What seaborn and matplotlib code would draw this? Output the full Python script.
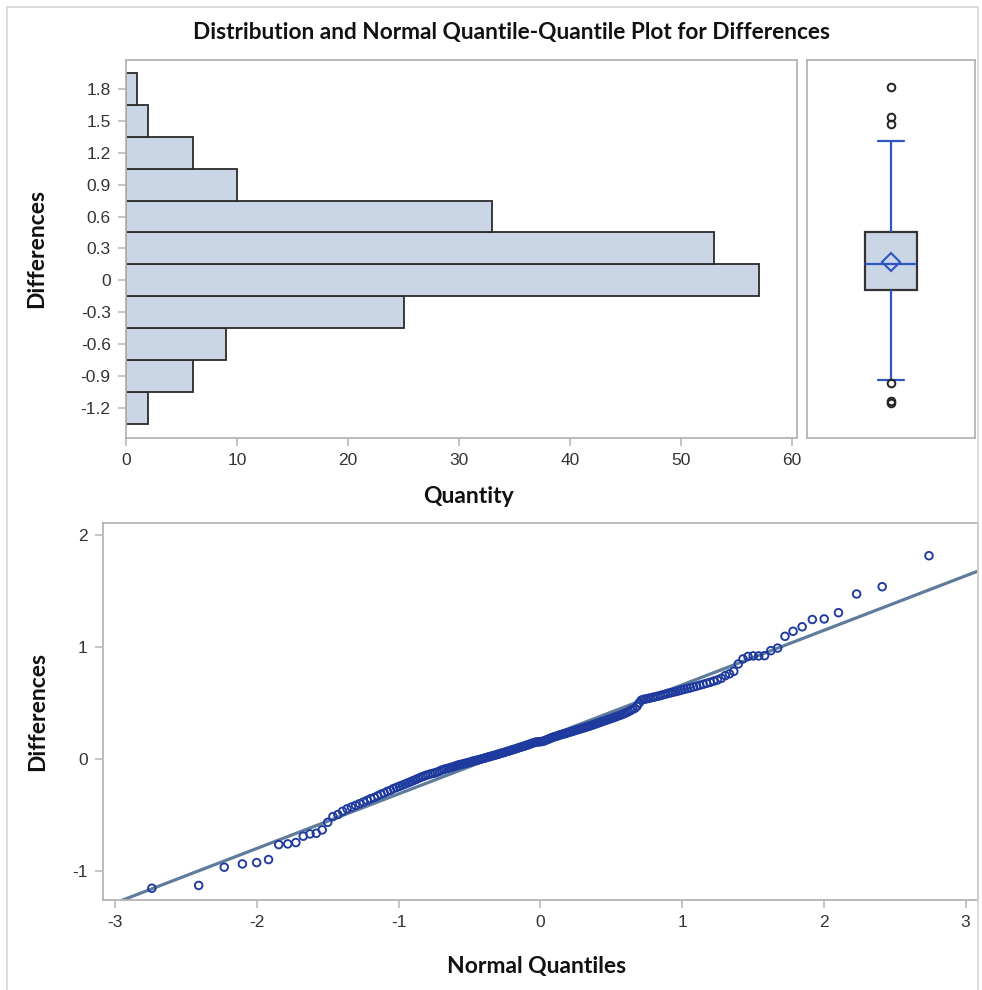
import numpy as np
import pandas as pd
import seaborn as sns
import matplotlib
matplotlib.use("Agg")
import matplotlib.pyplot as plt
from matplotlib.patches import Rectangle
from statistics import NormalDist

# ---------------- data (sorted differences) ----------------
differences = [
    -1.155, -1.13,
    -0.967, -0.938, -0.926, -0.899, -0.765, -0.759,
    -0.747, -0.69, -0.67, -0.664, -0.634, -0.566, -0.515, -0.497, -0.468,
    -0.446, -0.43, -0.415, -0.40, -0.385, -0.37, -0.355, -0.345, -0.33, -0.315,
    -0.305, -0.29, -0.28, -0.265, -0.255, -0.245, -0.235, -0.225, -0.215, -0.205,
    -0.195, -0.185, -0.175, -0.165, -0.157,
    -0.148, -0.142, -0.135, -0.13, -0.125, -0.118, -0.11, -0.10, -0.094,
    -0.088, -0.083, -0.078, -0.072, -0.066, -0.06,
    -0.053, -0.049, -0.046, -0.04, -0.036, -0.031, -0.027, -0.02, -0.017, -0.012,
    -0.008, -0.003, 0.002, 0.006, 0.011, 0.017, 0.02, 0.026, 0.03, 0.034,
    0.04, 0.044, 0.05, 0.054, 0.058, 0.064, 0.069, 0.073, 0.079, 0.084,
    0.088, 0.094, 0.099, 0.104, 0.109, 0.113, 0.12, 0.124, 0.129, 0.136,
    0.141, 0.146,
    0.151, 0.152, 0.153, 0.155, 0.158, 0.163, 0.17, 0.176, 0.182, 0.19,
    0.195, 0.2, 0.204, 0.21, 0.215, 0.22, 0.224, 0.228, 0.233, 0.238,
    0.243, 0.248, 0.253, 0.258, 0.263, 0.268, 0.272, 0.277, 0.283, 0.288,
    0.293, 0.298, 0.304, 0.31, 0.316, 0.322, 0.328, 0.334, 0.34, 0.346,
    0.352, 0.358, 0.364, 0.37, 0.377, 0.384, 0.39, 0.397, 0.405, 0.413,
    0.422, 0.432, 0.443,
    0.452, 0.47, 0.50, 0.525, 0.532, 0.536, 0.54, 0.545, 0.55, 0.555,
    0.56, 0.566, 0.572, 0.578, 0.585, 0.59, 0.596, 0.602, 0.608, 0.615,
    0.622, 0.628, 0.635, 0.643, 0.65, 0.658, 0.666, 0.675, 0.684, 0.695,
    0.705, 0.72, 0.744,
    0.76, 0.782, 0.848, 0.893, 0.915, 0.92, 0.92, 0.922, 0.967, 0.99,
    1.095, 1.14, 1.18, 1.245, 1.25, 1.306,
    1.473, 1.538,
    1.815,
]

hist_bin_edges = [-1.35, -1.05, -0.75, -0.45, -0.15, 0.15, 0.45, 0.75, 1.05, 1.35, 1.65, 1.95]
hist_yticks = [-1.2, -0.9, -0.6, -0.3, 0.0, 0.3, 0.6, 0.9, 1.2, 1.5, 1.8]
hist_yticklabels = ["-1.2", "-0.9", "-0.6", "-0.3", "0", "0.3", "0.6", "0.9", "1.2", "1.5", "1.8"]
hist_xticks = [0, 10, 20, 30, 40, 50, 60]
qq_xticks = [-3, -2, -1, 0, 1, 2, 3]
qq_yticks = [-1, 0, 1, 2]

title_text = "Distribution and Normal Quantile-Quantile Plot for Differences"

# ---------------- styling ----------------
sns.set_theme(style="white")
plt.rcParams["font.family"] = ["Liberation Sans", "DejaVu Sans"]
plt.rcParams["axes.unicode_minus"] = False

FILL = "#CAD5E6"
EDGE = "#2b2b2b"
BLUE = "#2F55C0"
MARK = "#1F3A9E"
LINE = "#5F7C9C"
SPINE = "#B4B4B4"
TICKC = "#333333"
LABEL_FONT = dict(family=["Lato", "DejaVu Sans"], weight="bold", size=16.5, color="#111111")

df = pd.DataFrame({"Differences": differences})
n = len(differences)
nd = NormalDist()
df["Normal Quantiles"] = [nd.inv_cdf((i + 1 - 0.375) / (n + 0.25)) for i in range(n)]
mu = float(np.mean(differences))
sigma = float(np.std(differences, ddof=1))

W, H = 982, 990
fig = plt.figure(figsize=(W / 100, H / 100), dpi=100)
fig.patch.set_facecolor("white")

def frac(x0, y0, x1, y1):
    return [x0 / W, 1 - y1 / H, (x1 - x0) / W, (y1 - y0) / H]

ax_h = fig.add_axes(frac(126, 60, 797, 438))
ax_b = fig.add_axes(frac(807, 60, 975, 438))
ax_q = fig.add_axes(frac(103, 523, 978, 900))

# outer light frame
fig.patches.append(Rectangle((7 / W, -0.01), (978 - 7) / W, 1 - 7 / H + 0.01,
                             transform=fig.transFigure, fill=False,
                             edgecolor="#D4D4D4", linewidth=1.2))

# ---------------- histogram ----------------
sns.histplot(data=df, y="Differences", bins=hist_bin_edges, ax=ax_h,
             color=FILL, edgecolor=EDGE, linewidth=1.3, alpha=1.0)
ax_h.set_xlim(0, 60.45)
ax_h.set_ylim(-1.48, 2.07)
ax_h.set_yticks(hist_yticks)
ax_h.set_yticklabels(hist_yticklabels)
ax_h.set_xticks(hist_xticks)
ax_h.set_xticklabels([str(t) for t in hist_xticks])
ax_h.set_ylabel("Differences", fontdict=LABEL_FONT)
ax_h.set_xlabel("Quantity", fontdict=LABEL_FONT)
ax_h.yaxis.set_label_coords(-0.117, 0.5)
ax_h.xaxis.set_label_coords(0.51, -0.128)

# ---------------- box plot ----------------
sns.boxplot(data=df, y="Differences", ax=ax_b, width=0.31, whis=1.575,
            color=FILL, linecolor=BLUE, linewidth=1.6, showmeans=True,
            boxprops=dict(facecolor=FILL, edgecolor="#333333", linewidth=1.6),
            whiskerprops=dict(color=BLUE, linewidth=1.6),
            capprops=dict(color=BLUE, linewidth=1.6),
            medianprops=dict(color=BLUE, linewidth=1.6),
            meanprops=dict(marker="D", markerfacecolor="none", markeredgecolor=BLUE,
                           markersize=9, markeredgewidth=1.5),
            flierprops=dict(marker="o", markerfacecolor="none", markeredgecolor="#222222",
                            markersize=5.5, markeredgewidth=1.4))
ax_b.set_xlim(-0.5, 0.5)
ax_b.set_ylim(-1.48, 2.07)
ax_b.set_xticks([])
ax_b.set_yticks([])
ax_b.set_xlabel("")
ax_b.set_ylabel("")

# ---------------- Q-Q plot ----------------
qq_x = np.array([-3.086, 3.087])
sns.lineplot(x=qq_x, y=mu + sigma * qq_x, ax=ax_q, color=LINE, linewidth=2.3, zorder=1)
sns.scatterplot(data=df, x="Normal Quantiles", y="Differences", ax=ax_q,
                marker="o", s=30, facecolor="none", edgecolor=MARK, linewidth=1.35,
                zorder=2)
ax_q.set_xlim(-3.086, 3.087)
ax_q.set_ylim(-1.26, 2.107)
ax_q.set_xticks(qq_xticks)
ax_q.set_xticklabels([str(t) for t in qq_xticks])
ax_q.set_yticks(qq_yticks)
ax_q.set_yticklabels([str(t) for t in qq_yticks])
ax_q.set_ylabel("Differences", fontdict=LABEL_FONT)
ax_q.set_xlabel("Normal Quantiles", fontdict=LABEL_FONT)
ax_q.yaxis.set_label_coords(-0.063, 0.5)
ax_q.xaxis.set_label_coords(0.495, -0.148)

for ax in (ax_h, ax_b, ax_q):
    for s in ax.spines.values():
        s.set_visible(True)
        s.set_color(SPINE)
        s.set_linewidth(1.3)
    ax.tick_params(axis="both", which="both", direction="out", length=6, width=1.1,
                   color=SPINE, labelcolor=TICKC, labelsize=12.5, pad=5,
                   left=ax is not ax_b, bottom=ax is not ax_b)

fig.text(512 / W, 1 - 33 / H, title_text, ha="center", va="center",
         family=["Lato", "DejaVu Sans"], weight="bold", size=16.3, color="#111111")

fig.savefig("out.png", dpi=100, facecolor="white")
